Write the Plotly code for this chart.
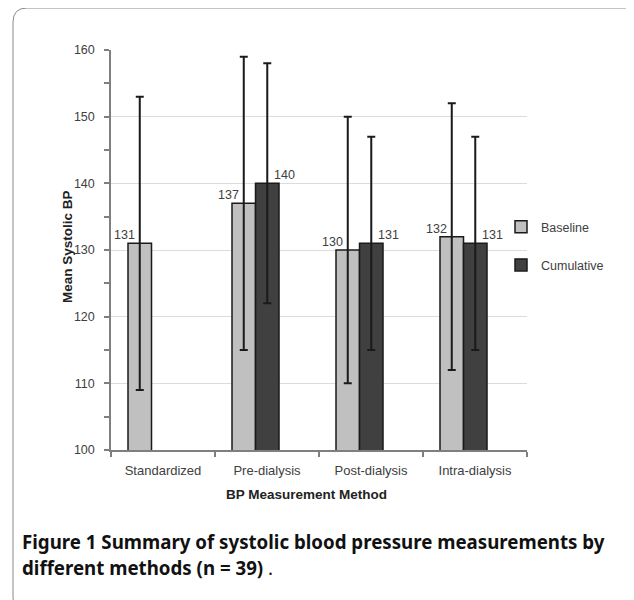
import plotly.graph_objects as go

categories = ["Standardized", "Pre-dialysis", "Post-dialysis", "Intra-dialysis"]
baseline = [131, 137, 130, 132]
baseline_err = [22, 22, 20, 20]
cumulative = [None, 140, 131, 131]
cumulative_err = [None, 18, 16, 16]
y_ticks = [100, 110, 120, 130, 140, 150, 160]

# page has an 8px body margin; figure is shrunk so page coords match reference
OFF = 8
W, H = 634 - OFF, 600 - OFF
L, R, T, B = 111, 527, 50, 450  # plot area in page pixels


def px(x):
    return (x - L) / (R - L)


def py(y):
    return (B - y) / (B - T)


fig = go.Figure()
bw = 0.226
off0 = -0.3365
fig.add_trace(go.Bar(
    x=categories, y=baseline, name="Baseline",
    width=bw, offset=off0,
    marker=dict(color="#c0c0c0", line=dict(color="#1a1a1a", width=1.5)),
    error_y=dict(type="data", array=baseline_err, visible=True,
                 color="#1a1a1a", thickness=2, width=4),
    legendgroup="a",
))
fig.add_trace(go.Bar(
    x=categories, y=cumulative, name="Cumulative",
    width=bw, offset=off0 + bw,
    marker=dict(color="#404040", line=dict(color="#1a1a1a", width=1.5)),
    error_y=dict(type="data", array=cumulative_err, visible=True,
                 color="#1a1a1a", thickness=2, width=4),
    legendgroup="b",
))

annotations = []
lab_font = dict(family="Liberation Sans, Arial, sans-serif", size=12.5, color="#404040")
for c, v in zip(categories, baseline):
    if v is not None:
        annotations.append(dict(x=c, y=v, xref="x", yref="y", text=str(v),
                                showarrow=False, xshift=-39, yshift=8,
                                font=lab_font))
for c, v in zip(categories, cumulative):
    if v is not None:
        annotations.append(dict(x=c, y=v, xref="x", yref="y", text=str(v),
                                showarrow=False, xshift=17, yshift=8,
                                font=lab_font))

title_font = dict(family="Liberation Sans, Arial, sans-serif", size=13.5, color="#222")
annotations.append(dict(x=px(306), y=py(494), xref="paper", yref="paper",
                        xanchor="center", yanchor="middle",
                        text="<b>BP Measurement Method</b>", showarrow=False,
                        font=title_font))
annotations.append(dict(x=px(67), y=py(247), xref="paper", yref="paper",
                        xanchor="center", yanchor="middle",
                        text="<b>Mean Systolic BP</b>", showarrow=False, textangle=-90,
                        font=title_font))

cap_font = dict(family="Noto Sans, Open Sans, sans-serif", size=18.7, color="#111")
annotations.append(dict(x=px(20), y=py(541), xref="paper", yref="paper",
                        xanchor="left", yanchor="middle",
                        text="<b>Figure 1 Summary of systolic blood pressure measurements by</b>",
                        showarrow=False, font=cap_font))
annotations.append(dict(x=px(20), y=py(567), xref="paper", yref="paper",
                        xanchor="left", yanchor="middle",
                        text="<b>different methods (n = 39)</b> .",
                        showarrow=False, font=cap_font))

# rounded border (page pixels)
x0, y0, x1, y1, r = 13, 8, 648, 612, 14
path = (f"M {px(x0)},{py(y0 + r)} "
        f"Q {px(x0)},{py(y0)} {px(x0 + r)},{py(y0)} "
        f"L {px(x1 - r)},{py(y0)} "
        f"Q {px(x1)},{py(y0)} {px(x1)},{py(y0 + r)} "
        f"L {px(x1)},{py(y1 - r)} "
        f"Q {px(x1)},{py(y1)} {px(x1 - r)},{py(y1)} "
        f"L {px(x0 + r)},{py(y1)} "
        f"Q {px(x0)},{py(y1)} {px(x0)},{py(y1 - r)} Z")

fig.update_layout(
    width=W, height=H,
    margin=dict(l=L - OFF, r=W - (R - OFF), t=T - OFF, b=H - (B - OFF), pad=0),
    paper_bgcolor="white", plot_bgcolor="white",
    barmode="group",
    showlegend=True,
    legend=dict(x=px(501), y=py(212), xanchor="left", yanchor="top",
                bgcolor="rgba(0,0,0,0)", traceorder="grouped", tracegroupgap=19,
                font=dict(family="Liberation Sans, Arial, sans-serif", size=12.5, color="#404040"),
                itemwidth=30),
    annotations=annotations,
    shapes=[dict(type="path", path=path, xref="paper", yref="paper",
                 line=dict(color="#8a8a8a", width=1), fillcolor="rgba(0,0,0,0)", layer="below")],
    xaxis=dict(type="category", range=[-0.5, 3.5], showline=True, linecolor="#7f7f7f",
               linewidth=1.5, ticks="outside", tickson="boundaries", ticklen=5,
               tickcolor="#7f7f7f", tickwidth=1.5, showgrid=False, ticklabelstandoff=8,
               tickfont=dict(family="Liberation Sans, Arial, sans-serif", size=13, color="#404040")),
    yaxis=dict(range=[100, 160], tickvals=y_ticks, showline=True, linecolor="#7f7f7f",
               linewidth=1.5, ticks="outside", ticklen=5, tickcolor="#7f7f7f", tickwidth=1.5,
               showgrid=True, gridcolor="#dcdcdc", gridwidth=1, zeroline=False,
               ticklabelstandoff=7,
               minor=dict(dtick=5, ticks="outside", ticklen=5, tickcolor="#7f7f7f",
                          tickwidth=1.5, showgrid=False),
               tickfont=dict(family="Liberation Sans, Arial, sans-serif", size=12.5, color="#404040")),
)

fig.write_html("out.html")
